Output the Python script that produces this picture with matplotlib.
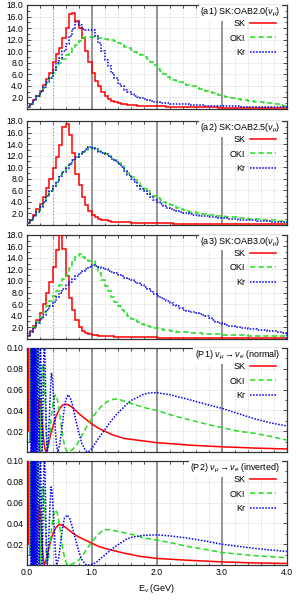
import numpy as np
import matplotlib
matplotlib.use('Agg')
import matplotlib.pyplot as plt
from matplotlib.ticker import MultipleLocator, FixedLocator, FormatStrFormatter

plt.rcParams['font.family'] = ['Liberation Sans', 'DejaVu Sans']
plt.rcParams['mathtext.fontset'] = 'custom'
plt.rcParams['mathtext.rm'] = 'Liberation Sans'
plt.rcParams['mathtext.it'] = 'Liberation Sans:italic'

# ---- flux histograms, 80 bins of 0.05 GeV from 0 to 4 GeV ----
bin_edges = np.linspace(0.0, 4.0, 81)

a1_sk = [0.3, 0.9, 1.5, 2.2, 3.1, 4.2, 5.2, 6.3, 8.2, 9.5,
         10.6, 12.2, 14.0, 16.5, 16.6, 15.3, 14.0, 12.3, 10.1, 8.1,
         6.2, 4.8, 3.9, 2.9, 2.2, 1.7, 1.4, 1.2, 1.0, 0.9,
         0.8, 0.75, 0.7, 0.65, 0.6, 0.55, 0.55, 0.5, 0.5, 0.5,
         0.45, 0.45, 0.45, 0.4, 0.4, 0.4, 0.4, 0.35, 0.35, 0.35,
         0.35, 0.35, 0.3, 0.3, 0.3, 0.3, 0.3, 0.3, 0.3, 0.25,
         0.25, 0.25, 0.25, 0.25, 0.25, 0.25, 0.25, 0.2, 0.2, 0.2,
         0.2, 0.2, 0.2, 0.2, 0.2, 0.2, 0.2, 0.2, 0.2, 0.2]
a1_oki = [0.3, 0.9, 1.5, 2.1, 2.9, 3.7, 4.5, 5.3, 6.3, 7.2,
          8.0, 8.7, 9.3, 9.9, 10.5, 11.1, 11.7, 12.2, 12.5, 12.5,
          12.4, 12.4, 12.3, 12.2, 12.1, 12.0, 11.9, 11.7, 11.5, 11.1,
          10.8, 10.5, 10.2, 9.9, 9.6, 9.3, 9.0, 8.6, 8.1, 7.6,
          7.0, 6.5, 6.0, 5.6, 5.2, 5.0, 4.8, 4.6, 4.4, 4.2,
          4.1, 3.9, 3.7, 3.5, 3.3, 3.2, 3.0, 2.8, 2.6, 2.4,
          2.2, 2.1, 2.0, 1.9, 1.8, 1.7, 1.6, 1.5, 1.4, 1.35,
          1.3, 1.2, 1.15, 1.1, 1.0, 1.0, 0.9, 0.8, 0.7, 0.6]
a1_kr = [0.3, 0.9, 1.6, 2.2, 3.0, 3.8, 4.6, 5.4, 6.8, 8.0,
         8.9, 10.0, 11.3, 12.6, 13.9, 15.0, 14.6, 13.8, 13.6, 13.6,
         13.7, 12.6, 11.5, 10.0, 8.4, 7.4, 6.3, 5.3, 4.4, 3.9,
         3.3, 2.9, 2.6, 2.3, 2.1, 1.9, 1.7, 1.6, 1.4, 1.3,
         1.2, 1.1, 1.0, 1.0, 0.95, 0.9, 0.9, 0.85, 0.8, 0.8,
         0.75, 0.7, 0.7, 0.65, 0.65, 0.6, 0.6, 0.55, 0.55, 0.5,
         0.5, 0.5, 0.5, 0.45, 0.45, 0.45, 0.4, 0.4, 0.4, 0.4,
         0.4, 0.35, 0.35, 0.35, 0.35, 0.3, 0.3, 0.3, 0.3, 0.3]

a2_sk = [0.3, 0.9, 1.8, 2.7, 3.6, 4.9, 6.4, 8.0, 9.9, 11.7,
         13.9, 16.9, 17.5, 15.5, 12.5, 8.9, 6.9, 4.9, 3.5, 2.5,
         1.8, 1.4, 1.1, 0.9, 0.8, 0.7, 0.6, 0.55, 0.5, 0.5,
         0.45, 0.45, 0.4, 0.4, 0.4, 0.35, 0.35, 0.35, 0.3, 0.3,
         0.3, 0.3, 0.3, 0.3, 0.3, 0.25, 0.25, 0.25, 0.25, 0.25,
         0.25, 0.25, 0.25, 0.25, 0.2, 0.2, 0.2, 0.2, 0.2, 0.2,
         0.2, 0.2, 0.2, 0.2, 0.2, 0.2, 0.2, 0.15, 0.15, 0.15,
         0.15, 0.15, 0.15, 0.15, 0.15, 0.15, 0.15, 0.15, 0.15, 0.15]
a2_oki = [0.3, 0.9, 1.6, 2.4, 3.2, 4.1, 5.0, 5.9, 6.7, 7.6,
          8.4, 9.2, 10.0, 10.6, 11.2, 11.8, 12.2, 12.6, 13.0, 13.5,
          13.4, 13.1, 12.8, 12.5, 12.3, 12.0, 11.7, 11.3, 10.8, 10.2,
          9.6, 9.0, 8.3, 7.8, 7.3, 6.8, 6.3, 5.9, 5.4, 5.0,
          4.6, 4.3, 4.0, 3.7, 3.5, 3.2, 3.0, 2.8, 2.6, 2.4,
          2.3, 2.2, 2.1, 2.0, 1.9, 1.85, 1.8, 1.7, 1.6, 1.55,
          1.5, 1.45, 1.4, 1.35, 1.3, 1.25, 1.2, 1.15, 1.1, 1.05,
          1.0, 1.0, 0.95, 0.9, 0.85, 0.8, 0.8, 0.75, 0.7, 0.65]
a2_kr = [0.3, 0.9, 1.6, 2.3, 3.1, 4.0, 5.0, 5.8, 6.7, 7.5,
         8.4, 9.1, 9.9, 10.6, 11.2, 11.7, 12.2, 12.6, 13.1, 13.5,
         13.3, 13.1, 12.7, 12.4, 12.2, 11.9, 11.5, 11.1, 10.6, 10.0,
         9.4, 8.7, 8.0, 7.4, 6.8, 6.3, 5.8, 5.3, 4.9, 4.4,
         4.0, 3.6, 3.3, 3.0, 2.8, 2.6, 2.4, 2.2, 2.1, 2.0,
         1.9, 1.8, 1.7, 1.6, 1.55, 1.5, 1.45, 1.4, 1.3, 1.25,
         1.2, 1.15, 1.1, 1.05, 1.0, 0.95, 0.9, 0.9, 0.85, 0.8,
         0.8, 0.75, 0.7, 0.7, 0.65, 0.6, 0.55, 0.5, 0.5, 0.45]

a3_sk = [0.5, 1.4, 2.3, 3.3, 4.4, 6.1, 8.0, 9.8, 12.4, 15.4,
         17.9, 15.5, 10.8, 7.0, 5.0, 3.3, 2.1, 1.4, 1.0, 0.8,
         0.7, 0.6, 0.55, 0.5, 0.45, 0.4, 0.4, 0.35, 0.35, 0.3,
         0.3, 0.3, 0.3, 0.3, 0.25, 0.25, 0.25, 0.25, 0.25, 0.25,
         0.2, 0.2, 0.2, 0.2, 0.2, 0.2, 0.2, 0.2, 0.2, 0.2,
         0.2, 0.2, 0.2, 0.2, 0.2, 0.15, 0.15, 0.15, 0.15, 0.15,
         0.15, 0.15, 0.15, 0.15, 0.15, 0.15, 0.15, 0.15, 0.15, 0.15,
         0.15, 0.15, 0.15, 0.15, 0.15, 0.15, 0.15, 0.15, 0.15, 0.15]
a3_oki = [0.4, 1.2, 2.0, 2.9, 3.8, 4.7, 5.6, 6.5, 7.4, 8.3,
          9.3, 10.4, 11.0, 12.3, 13.5, 14.2, 14.6, 14.2, 13.6, 13.5,
          13.4, 12.6, 11.3, 10.2, 9.2, 8.2, 7.3, 6.4, 5.7, 5.0,
          4.4, 3.9, 3.5, 3.2, 2.9, 2.6, 2.4, 2.2, 2.0, 1.9,
          1.8, 1.7, 1.6, 1.5, 1.4, 1.3, 1.25, 1.2, 1.15, 1.1,
          1.05, 1.0, 1.0, 0.95, 0.9, 0.9, 0.85, 0.8, 0.8, 0.75,
          0.7, 0.7, 0.7, 0.65, 0.65, 0.6, 0.6, 0.6, 0.55, 0.55,
          0.55, 0.5, 0.5, 0.5, 0.5, 0.45, 0.45, 0.45, 0.4, 0.4]
a3_kr = [0.4, 1.1, 1.9, 2.7, 3.4, 4.2, 4.9, 5.6, 6.4, 7.2,
         8.0, 8.7, 9.3, 9.9, 10.4, 10.9, 11.3, 11.7, 12.1, 12.5,
         12.8, 12.6, 12.4, 12.2, 12.0, 11.8, 11.6, 11.4, 11.1, 10.8,
         10.6, 10.4, 10.2, 9.9, 9.6, 9.3, 9.0, 8.6, 8.2, 7.8,
         7.4, 7.1, 6.8, 6.5, 6.2, 5.9, 5.6, 5.3, 5.0, 4.8,
         4.7, 4.6, 4.5, 4.3, 4.2, 4.0, 3.6, 3.2, 2.9, 2.7,
         2.5, 2.4, 2.3, 2.2, 2.1, 2.0, 1.9, 1.8, 1.75, 1.7,
         1.7, 1.6, 1.5, 1.5, 1.4, 1.3, 1.3, 1.2, 1.1, 1.0]

# ---- appearance probability nu_mu -> nu_e ----
p1_sk_e = [0.030, 0.033, 0.035, 0.037, 0.040, 0.042, 0.046, 0.0495, 0.054, 0.059,
           0.062, 0.066, 0.070, 0.074, 0.078, 0.085, 0.092, 0.099, 0.105, 0.112,
           0.119, 0.126, 0.135, 0.142, 0.149, 0.160, 0.170, 0.180, 0.190, 0.198,
           0.210, 0.220, 0.235, 0.250, 0.265, 0.280, 0.297, 0.33, 0.36, 0.40,
           0.45, 0.50, 0.55, 0.60, 0.65, 0.70, 0.80, 0.90, 1.00, 1.10,
           1.20, 1.30, 1.40, 1.50, 1.75, 2.00, 2.50, 3.00, 3.50, 4.00]
p1_sk = [0.13, 0.04, 0.13, 0.02, 0.14, 0.02, 0.14, 0.02, 0.14, 0.015,
         0.08, 0.14, 0.08, 0.015, 0.06, 0.13, 0.06, 0.004, 0.05, 0.10,
         0.12, 0.10, 0.05, 0.015, 0.003, 0.012, 0.030, 0.044, 0.051, 0.052,
         0.049, 0.043, 0.031, 0.019, 0.009, 0.003, 0.000, 0.006, 0.015, 0.024,
         0.034, 0.041, 0.045, 0.046, 0.045, 0.043, 0.037, 0.032, 0.027, 0.023,
         0.020, 0.017, 0.015, 0.013, 0.011, 0.009, 0.0066, 0.005, 0.0038, 0.0029]

p1_oki_e = [0.045, 0.0475, 0.0495, 0.0515, 0.054, 0.056, 0.059, 0.062, 0.065, 0.069,
            0.073, 0.078, 0.083, 0.089, 0.096, 0.103, 0.108, 0.113, 0.118, 0.124,
            0.130, 0.138, 0.146, 0.155, 0.165, 0.180, 0.195, 0.207, 0.215, 0.225,
            0.240, 0.250, 0.262, 0.275, 0.290, 0.300, 0.310, 0.330, 0.350, 0.380,
            0.410, 0.440, 0.470, 0.500, 0.530, 0.560, 0.590, 0.625, 0.660, 0.700,
            0.770, 0.850, 0.920, 1.000, 1.080, 1.150, 1.230, 1.300, 1.360, 1.450,
            1.540, 1.640, 1.740, 1.850, 2.000, 2.250, 2.500, 2.750, 3.000, 3.250,
            3.500, 3.750, 4.000]
p1_oki = [0.13, 0.01, 0.13, 0.01, 0.13, 0.01, 0.13, 0.01, 0.13, 0.01,
          0.13, 0.01, 0.13, 0.005, 0.13, 0.005, 0.08, 0.13, 0.08, 0.005,
          0.07, 0.13, 0.07, 0.005, 0.06, 0.12, 0.06, 0.002, 0.02, 0.05,
          0.078, 0.085, 0.080, 0.062, 0.035, 0.015, 0.003, 0.004, 0.014, 0.035,
          0.050, 0.055, 0.051, 0.040, 0.026, 0.013, 0.004, 0.000, 0.001, 0.002,
          0.007, 0.016, 0.024, 0.032, 0.039, 0.044, 0.048, 0.050, 0.051, 0.050,
          0.048, 0.046, 0.044, 0.042, 0.040, 0.035, 0.031, 0.027, 0.0235, 0.020,
          0.018, 0.015, 0.0115]

p1_kr_e = [0.068, 0.0705, 0.073, 0.076, 0.079, 0.0825, 0.086, 0.090, 0.095, 0.100,
           0.106, 0.112, 0.119, 0.123, 0.127, 0.131, 0.136, 0.141, 0.146, 0.152,
           0.158, 0.165, 0.173, 0.181, 0.190, 0.200, 0.211, 0.224, 0.2375, 0.250,
           0.262, 0.271, 0.282, 0.295, 0.307, 0.317, 0.330, 0.345, 0.360, 0.380,
           0.400, 0.420, 0.440, 0.460, 0.480, 0.510, 0.540, 0.570, 0.600, 0.635,
           0.670, 0.710, 0.750, 0.800, 0.850, 0.900, 0.930, 0.970, 1.020, 1.080,
           1.150, 1.230, 1.300, 1.380, 1.460, 1.540, 1.620, 1.690, 1.780, 1.900,
           2.000, 2.200, 2.460, 2.750, 3.000, 3.250, 3.500, 3.750, 4.000]
p1_kr = [0.0, 0.13, 0.0, 0.13, 0.0, 0.13, 0.0, 0.13, 0.0, 0.13,
         0.0, 0.13, 0.0, 0.08, 0.13, 0.08, 0.0, 0.08, 0.13, 0.08,
         0.0, 0.07, 0.13, 0.07, 0.0, 0.06, 0.12, 0.06, 0.0, 0.04,
         0.09, 0.11, 0.09, 0.045, 0.012, 0.0, 0.008, 0.030, 0.052, 0.076,
         0.068, 0.045, 0.022, 0.006, 0.0, 0.008, 0.022, 0.038, 0.050, 0.055,
         0.052, 0.044, 0.032, 0.019, 0.008, 0.002, 0.0, 0.001, 0.005, 0.011,
         0.017, 0.024, 0.030, 0.036, 0.041, 0.046, 0.050, 0.052, 0.055, 0.057,
         0.057, 0.055, 0.051, 0.046, 0.042, 0.037, 0.032, 0.028, 0.025]

p2_sk_e = [0.030, 0.033, 0.035, 0.037, 0.040, 0.042, 0.046, 0.0495, 0.054, 0.059,
           0.062, 0.066, 0.070, 0.074, 0.078, 0.085, 0.092, 0.099, 0.105, 0.112,
           0.119, 0.126, 0.135, 0.142, 0.149, 0.160, 0.170, 0.180, 0.190, 0.200,
           0.210, 0.225, 0.240, 0.255, 0.270, 0.290, 0.320, 0.350, 0.380, 0.410,
           0.450, 0.500, 0.550, 0.600, 0.700, 0.800, 0.900, 1.000, 1.100, 1.230,
           1.490, 1.750, 2.000, 2.500, 3.000, 3.500, 4.000]
p2_sk = [0.13, 0.04, 0.13, 0.02, 0.14, 0.02, 0.14, 0.02, 0.14, 0.015,
         0.08, 0.14, 0.08, 0.015, 0.06, 0.13, 0.06, 0.004, 0.05, 0.10,
         0.12, 0.10, 0.05, 0.015, 0.003, 0.015, 0.035, 0.050, 0.056, 0.055,
         0.049, 0.035, 0.018, 0.006, 0.000, 0.003, 0.010, 0.019, 0.026, 0.031,
         0.036, 0.039, 0.038, 0.036, 0.031, 0.027, 0.024, 0.021, 0.018, 0.0155,
         0.0115, 0.0083, 0.0063, 0.0045, 0.003, 0.002, 0.0015]

p2_oki_e = [0.045, 0.0475, 0.0495, 0.0515, 0.054, 0.056, 0.059, 0.062, 0.065, 0.069,
            0.073, 0.078, 0.083, 0.089, 0.096, 0.103, 0.108, 0.113, 0.118, 0.124,
            0.130, 0.138, 0.146, 0.155, 0.165, 0.180, 0.195, 0.207, 0.215, 0.225,
            0.240, 0.250, 0.262, 0.275, 0.290, 0.300, 0.310, 0.330, 0.350, 0.380,
            0.410, 0.440, 0.470, 0.500, 0.530, 0.560, 0.590, 0.625, 0.660, 0.700,
            0.770, 0.850, 0.920, 1.000, 1.030, 1.080, 1.130, 1.180, 1.250, 1.350,
            1.500, 1.640, 1.800, 2.000, 2.250, 2.460, 2.750, 3.000, 3.250, 3.500,
            3.750, 4.000]
p2_oki = [0.13, 0.01, 0.13, 0.01, 0.13, 0.01, 0.13, 0.01, 0.13, 0.01,
          0.13, 0.01, 0.13, 0.005, 0.13, 0.005, 0.08, 0.13, 0.08, 0.005,
          0.07, 0.13, 0.07, 0.005, 0.06, 0.12, 0.06, 0.002, 0.02, 0.045,
          0.068, 0.075, 0.071, 0.055, 0.031, 0.013, 0.003, 0.004, 0.014, 0.034,
          0.048, 0.053, 0.050, 0.040, 0.027, 0.014, 0.005, 0.000, 0.000, 0.001,
          0.003, 0.008, 0.015, 0.022, 0.024, 0.028, 0.031, 0.034, 0.034, 0.033,
          0.031, 0.029, 0.026, 0.024, 0.021, 0.018, 0.015, 0.012, 0.0105, 0.009,
          0.008, 0.007]

p2_kr_e = [0.068, 0.0705, 0.073, 0.076, 0.079, 0.0825, 0.086, 0.090, 0.095, 0.100,
           0.106, 0.112, 0.119, 0.123, 0.127, 0.131, 0.136, 0.141, 0.146, 0.152,
           0.158, 0.165, 0.173, 0.181, 0.190, 0.200, 0.211, 0.224, 0.2375, 0.250,
           0.262, 0.271, 0.282, 0.295, 0.307, 0.317, 0.330, 0.345, 0.360, 0.375,
           0.390, 0.410, 0.430, 0.445, 0.460, 0.490, 0.520, 0.550, 0.580, 0.620,
           0.660, 0.700, 0.750, 0.800, 0.850, 0.900, 0.920, 0.970, 1.020, 1.080,
           1.150, 1.230, 1.300, 1.370, 1.440, 1.540, 1.640, 1.800, 2.000, 2.200,
           2.460, 2.750, 3.000, 3.250, 3.500, 3.750, 4.000]
p2_kr = [0.0, 0.13, 0.0, 0.13, 0.0, 0.13, 0.0, 0.13, 0.0, 0.13,
         0.0, 0.13, 0.0, 0.08, 0.13, 0.08, 0.0, 0.08, 0.13, 0.08,
         0.0, 0.07, 0.13, 0.07, 0.0, 0.06, 0.12, 0.06, 0.0, 0.04,
         0.09, 0.11, 0.09, 0.045, 0.012, 0.0, 0.010, 0.035, 0.060, 0.075,
         0.070, 0.050, 0.027, 0.010, 0.0, 0.006, 0.020, 0.035, 0.045, 0.048,
         0.045, 0.037, 0.025, 0.013, 0.005, 0.001, 0.0, 0.0, 0.001, 0.003,
         0.007, 0.011, 0.015, 0.018, 0.021, 0.025, 0.027, 0.0285, 0.029, 0.028,
         0.026, 0.023, 0.020, 0.018, 0.016, 0.0145, 0.013]

hist_panels = [
    ('(a1) SK:OAB2.0($\\nu_\\mu$)', a1_sk, a1_oki, a1_kr),
    ('(a2) SK:OAB2.5($\\nu_\\mu$)', a2_sk, a2_oki, a2_kr),
    ('(a3) SK:OAB3.0($\\nu_\\mu$)', a3_sk, a3_oki, a3_kr),
]
prob_panels = [
    ('(P1) $\\nu_\\mu \\rightarrow \\nu_e$ (normal)',
     (p1_sk_e, p1_sk), (p1_oki_e, p1_oki), (p1_kr_e, p1_kr)),
    ('(P2) $\\nu_\\mu \\rightarrow \\nu_e$ (inverted)',
     (p2_sk_e, p2_sk), (p2_oki_e, p2_oki), (p2_kr_e, p2_kr)),
]

names = ['SK', 'OKI', 'Kr']
colors = ['#ff0000', '#22dd22', '#0000ee']
styles = ['-', (0, (3.5, 2.0)), (0, (1.0, 1.0))]
fs = 6.2

fig = plt.figure(figsize=(2.98, 6.05), dpi=100)
bottoms = [0.8198, 0.6281, 0.4400, 0.2529, 0.0661]
axes = [fig.add_axes([0.0896, b, 0.8725, 0.172]) for b in bottoms]


def style_axes(ax, prob):
    ax.set_xlim(0, 4)
    ax.xaxis.set_major_locator(MultipleLocator(1.0))
    ax.xaxis.set_minor_locator(MultipleLocator(0.2))
    if prob:
        ax.set_ylim(0, 0.1)
        ax.yaxis.set_major_locator(FixedLocator([0.02, 0.04, 0.06, 0.08, 0.10]))
        ax.yaxis.set_minor_locator(MultipleLocator(0.01))
        ax.yaxis.set_major_formatter(FormatStrFormatter('%.2f'))
    else:
        ax.set_ylim(0, 18)
        ax.yaxis.set_major_locator(FixedLocator(np.arange(2, 19, 2)))
        ax.yaxis.set_minor_locator(MultipleLocator(1.0))
        ax.yaxis.set_major_formatter(FormatStrFormatter('%.1f'))
    ax.xaxis.set_major_formatter(FormatStrFormatter('%.1f'))
    ax.tick_params(which='both', direction='in', top=True, right=True,
                   labelsize=fs, pad=2.5, width=0.6, color='#333333')
    ax.tick_params(which='major', length=3)
    ax.tick_params(which='minor', length=1.8)
    ax.grid(which='minor', axis='x', color='#cccccc', ls=(0, (2, 2)), lw=0.5)
    ax.grid(which='major', axis='y', color='#cccccc', ls=(0, (2, 2)), lw=0.5)
    ax.set_axisbelow(True)
    for x in [1.0, 2.0, 3.0]:
        ax.axvline(x, color='#8c8c8c', lw=1.3, zorder=1)
    ax.axvline(0.4, color='#a0a0a0', lw=0.9, ls=':', zorder=1)
    for s in ax.spines.values():
        s.set_linewidth(0.9)
        s.set_color('#333333')


for ax, (title, sk, oki, kr) in zip(axes[:3], hist_panels):
    style_axes(ax, False)
    for vals, name, c, ls in zip([sk, oki, kr], names, colors, styles):
        ax.stairs(vals, bin_edges, color=c, ls=ls, lw=1.1, label=name, zorder=3)

for ax, (title, sk, oki, kr) in zip(axes[3:], prob_panels):
    style_axes(ax, True)
    for (e, p), name, c, ls in zip([sk, oki, kr], names, colors, styles):
        ax.plot(e, p, color=c, ls=ls, lw=1.1, label=name, zorder=3)

all_titles = [h[0] for h in hist_panels] + [p[0] for p in prob_panels]
for ax, title in zip(axes, all_titles):
    ax.text(0.975, 0.925, title, transform=ax.transAxes, ha='right', va='center',
            fontsize=fs + 0.3, zorder=5,
            bbox=dict(boxstyle='square,pad=0.15', fc='white', ec='none'))
    ax.legend(loc='upper right', bbox_to_anchor=(0.96, 0.865), markerfirst=False,
              frameon=False, fontsize=fs + 0.3, handlelength=2.9,
              handletextpad=0.55, labelspacing=0.62, borderpad=0,
              borderaxespad=0)

for ax in axes[:-1]:
    ax.tick_params(labelbottom=False)
axes[-1].set_xlabel('E$_\\nu$ (GeV)', fontsize=fs + 0.3, labelpad=3)

fig.savefig('out.png', dpi=100)
